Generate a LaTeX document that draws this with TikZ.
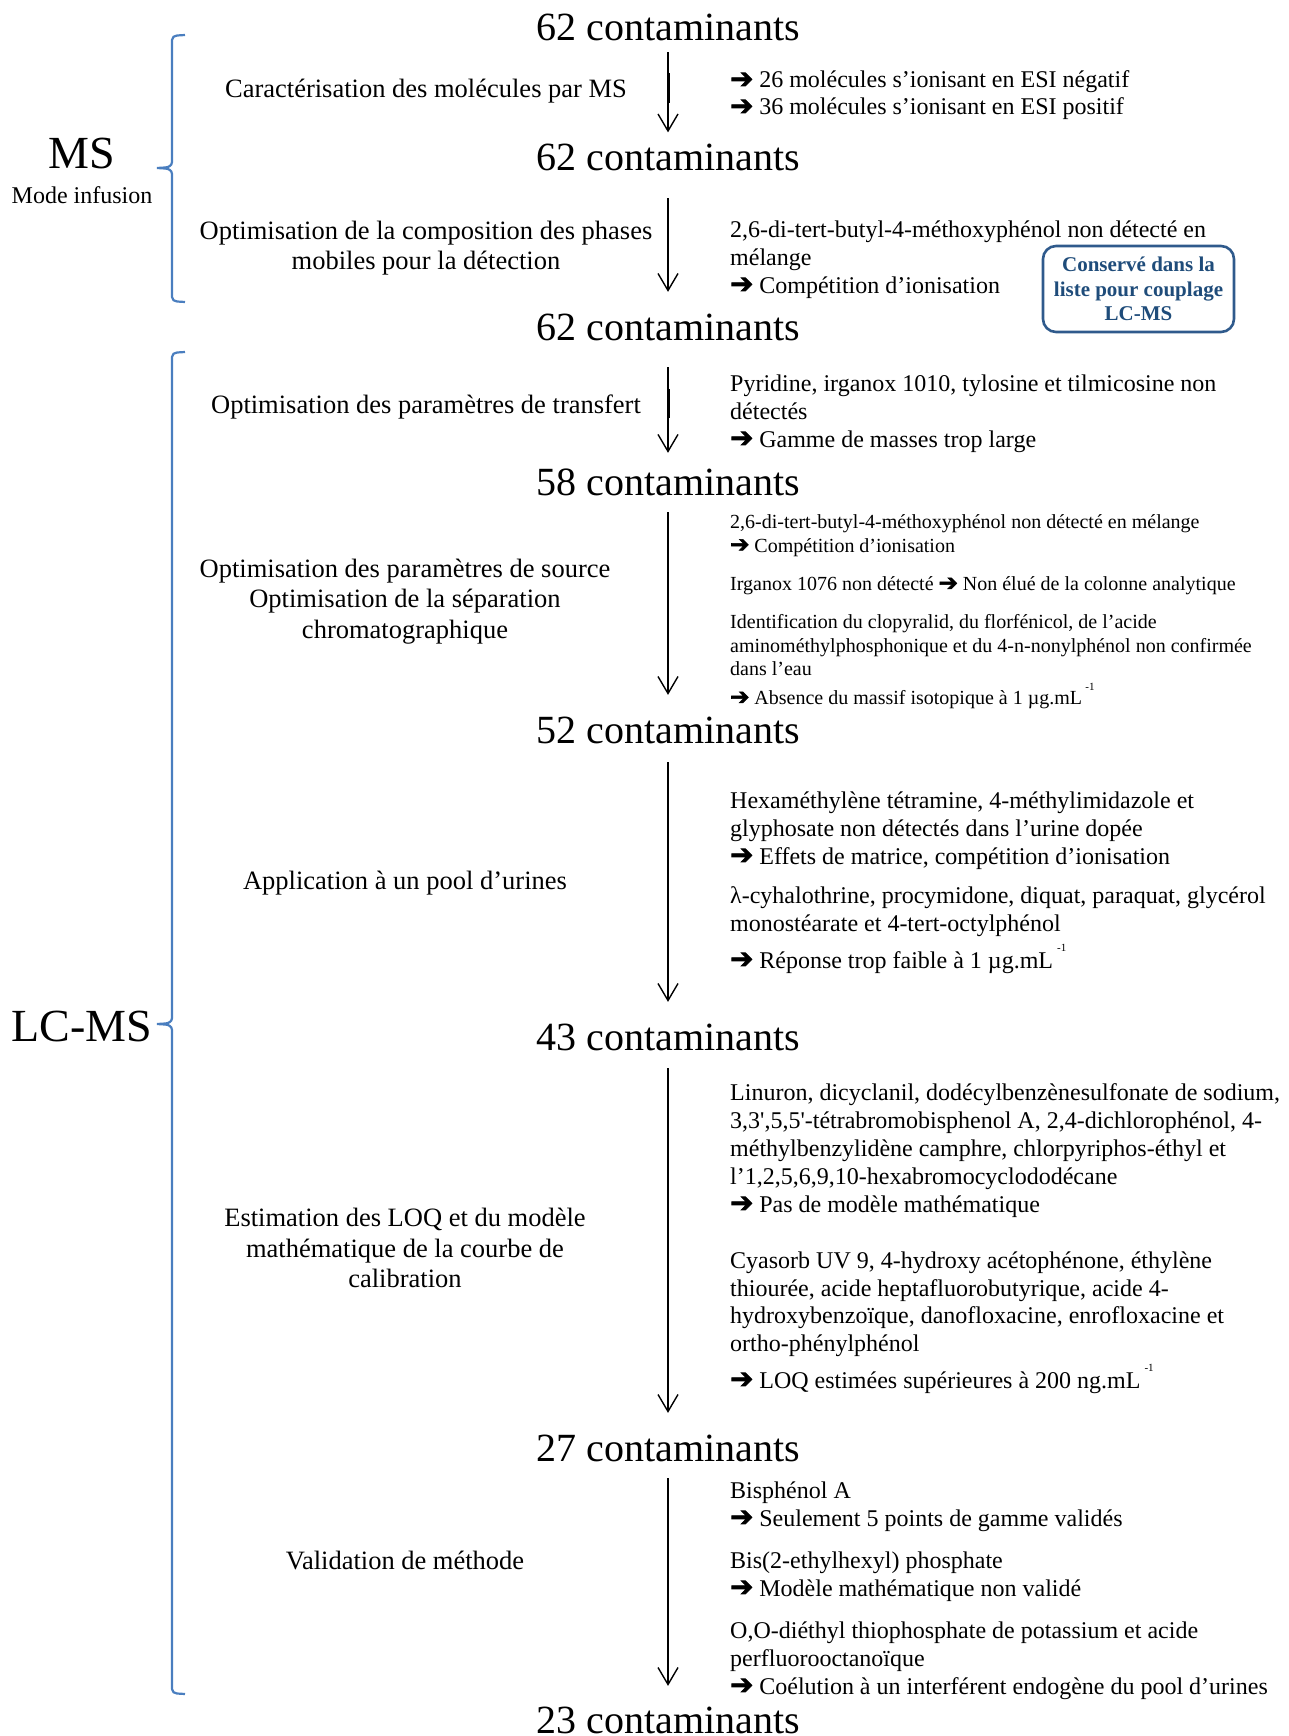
\documentclass[tikz,border=0pt]{standalone}
\usepackage{fontspec}
\setmainfont{Liberation Serif}
\newfontfamily\dejavu{DejaVu Sans}[Scale=1.15, FakeBold=2.5]
\usetikzlibrary{arrows.meta}

\definecolor{accbleu}{HTML}{4A7EBF}
\definecolor{cadrebleu}{HTML}{2F5A8C}
\definecolor{textebleu}{HTML}{1F4C7A}

% arrow sign used in the comments, and the small -1 exponent
\newcommand{\fl}{{\dejavu ➔}\hspace{0.25em}}
\newcommand{\mun}{\,\raisebox{0.7em}{\fontsize{11}{11}\selectfont -1}}

\begin{document}
\begin{tikzpicture}[x=1pt,y=-1pt]
  % styles (multi-line nodes sit on the baseline of their last line)
  \tikzset{
    compte/.style={inner sep=0pt, font=\fontsize{40}{44}\selectfont},
    etape/.style={inner sep=0pt, align=center, font=\fontsize{26.5}{30.5}\selectfont},
    detail/.style={anchor=base west, inner sep=0pt, align=left, font=\fontsize{24}{27.8}\selectfont},
    petit/.style={anchor=base west, inner sep=0pt, align=left, font=\fontsize{20}{23.5}\selectfont},
    titre/.style={inner sep=0pt, font=\fontsize{46}{50}\selectfont},
    fleche/.style={draw=black, line width=1.4pt, -{Straight Barb[length=17pt,width=20pt]}},
    accolade/.style={draw=accbleu, line width=2.2pt},
    boite/.style={draw=cadrebleu, line width=2.6pt, rounded corners=13pt,
      minimum width=191pt, minimum height=86pt, inner sep=0pt, align=center,
      text=textebleu, font=\bfseries\fontsize{21}{24.5}\selectfont}
  }

  \useasboundingbox (0,0) rectangle (1288,1736);

  % number of contaminants after each step
  \node[compte] (c1) at (668,27)   {62 contaminants};
  \node[compte] (c2) at (668,157)  {62 contaminants};
  \node[compte] (c3) at (668,327)  {62 contaminants};
  \node[compte] (c4) at (668,482)  {58 contaminants};
  \node[compte] (c5) at (668,730)  {52 contaminants};
  \node[compte] (c6) at (668,1037) {43 contaminants};
  \node[compte] (c7) at (668,1448) {27 contaminants};
  \node[compte] (c8) at (668,1720) {23 contaminants};

  % arrows between the counts
  \draw[fleche, shorten <=11.5pt, shorten >=11pt]   (c1) -- (c2);
  \draw[fleche, shorten <=27.5pt, shorten >=21.5pt] (c2) -- (c3);
  \draw[fleche, shorten <=26.5pt, shorten >=15.5pt] (c3) -- (c4);
  \draw[fleche, shorten <=16.5pt, shorten >=21.5pt] (c4) -- (c5);
  \draw[fleche, shorten <=18.5pt, shorten >=21.5pt] (c5) -- (c6);
  \draw[fleche, shorten <=17.5pt, shorten >=21.5pt] (c6) -- (c7);
  \draw[fleche, shorten <=16.5pt, shorten >=20.5pt] (c7) -- (c8);
  % thicker bits on the first and third arrows
  \draw[line width=3pt] (668,73) -- (668,103);
  \draw[line width=3pt] (668,389) -- (668,418);

  % steps (left column)
  \node[etape] (e1) at (426,91)   {Caractérisation des molécules par MS};
  \node[etape] (e2) at (426,248)  {Optimisation de la composition des phases\\mobiles pour la détection};
  \node[etape] (e3) at (426,407)  {Optimisation des paramètres de transfert};
  \node[etape] (e4) at (405,601.5){Optimisation des paramètres de source\\Optimisation de la séparation\\chromatographique};
  \node[etape] (e5) at (405,883)  {Application à un pool d’urines};
  \node[etape] (e6) at (405,1248) {Estimation des LOQ et du modèle\\mathématique de la courbe de\\calibration};
  \node[etape] (e7) at (405,1560) {Validation de méthode};

  % comments (right column)
  \node[detail] (d1) at (730,115) {\fl 26 molécules s’ionisant en ESI négatif\\[-0.8pt]\fl 36 molécules s’ionisant en ESI positif};
  \node[detail] (d2) at (730,293) {2,6-di-tert-butyl-4-méthoxyphénol non détecté en\\mélange\\\fl Compétition d’ionisation};
  \node[detail] (d3) at (730,447) {Pyridine, irganox 1010, tylosine et tilmicosine non\\détectés\\\fl Gamme de masses trop large};

  \node[petit] (p1) at (730,552)   {2,6-di-tert-butyl-4-méthoxyphénol non détecté en mélange\\\fl Compétition d’ionisation};
  \node[petit] (p2) at (730,590.5) {Irganox 1076 non détecté \fl Non élué de la colonne analytique};
  \node[petit] (p3) at (730,704.5) {Identification du clopyralid, du florfénicol, de l’acide\\aminométhylphosphonique et du 4-n-nonylphénol non confirmée\\dans l’eau\\[5.5pt]\fl Absence du massif isotopique à 1 µg.mL\mun};

  \node[detail] (d4) at (730,864) {Hexaméthylène tétramine, 4-méthylimidazole et\\glyphosate non détectés dans l’urine dopée\\\fl Effets de matrice, compétition d’ionisation};
  \node[detail] (d5) at (730,968) {λ-cyhalothrine, procymidone, diquat, paraquat, glycérol\\monostéarate et 4-tert-octylphénol\\[6pt]\fl Réponse trop faible à 1 µg.mL\mun};

  \node[detail] (d6) at (730,1212) {Linuron, dicyclanil, dodécylbenzènesulfonate de sodium,\\3,3\textquotesingle,5,5\textquotesingle-tétrabromobisphenol A, 2,4-dichlorophénol, 4-\\méthylbenzylidène camphre, chlorpyriphos-éthyl et\\l’1,2,5,6,9,10-hexabromocyclododécane\\\fl Pas de modèle mathématique};
  \node[detail] (d7) at (730,1388) {Cyasorb UV 9, 4-hydroxy acétophénone, éthylène\\thiourée, acide heptafluorobutyrique, acide 4-\\hydroxybenzoïque, danofloxacine, enrofloxacine et\\ortho-phénylphénol\\[6pt]\fl LOQ estimées supérieures à 200 ng.mL\mun};

  \node[detail] (d8) at (730,1526)  {Bisphénol A\\\fl Seulement 5 points de gamme validés};
  \node[detail] (d9) at (730,1596)  {Bis(2-ethylhexyl) phosphate\\\fl Modèle mathématique non validé};
  \node[detail] (d10) at (730,1694) {O,O-diéthyl thiophosphate de potassium et acide\\perfluorooctanoïque\\\fl Coélution à un interférent endogène du pool d’urines};

  % kept compound
  \node[boite] (garde) at (1138.5,289) {Conservé dans la\\liste pour couplage\\LC-MS};

  % the two parts, with their braces
  \node[titre] (ms) at (82,153) {MS};
  \node[inner sep=0pt, font=\fontsize{24}{28}\selectfont] (infusion) at (82,195) {Mode infusion};
  \node[titre] (lcms) at (82,1026) {LC-MS};

  \foreach \ha/\mi/\ba in {35/168/302, 352/1024/1694} {
    \draw[accolade] (185,\ha) -- (177,\ha+0.5) to[out=180,in=90] (172,\ha+5)
      -- (172,\mi-6) to[out=-90,in=0] (165,\mi-0.5) -- (157,\mi)
      -- (165,\mi+0.5) to[out=0,in=90] (172,\mi+6)
      -- (172,\ba-5) to[out=-90,in=180] (177,\ba-0.5) -- (185,\ba);
  }
\end{tikzpicture}
\end{document}
